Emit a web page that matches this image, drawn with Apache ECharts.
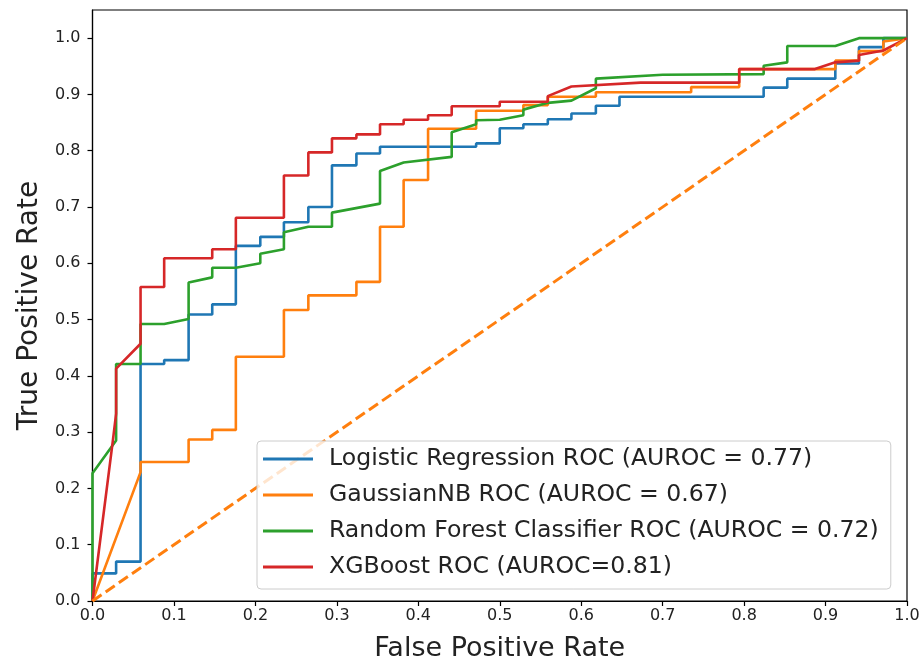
<!DOCTYPE html>
<html>
<head>
<meta charset="utf-8">
<script src="https://cdn.jsdelivr.net/npm/echarts@6/dist/echarts.min.js"></script>
<style>html,body{margin:0;padding:0;background:#fff}#c{width:923px;height:667px}</style>
</head>
<body>
<div id="c"></div>
<script>
// ---- data ----
const tickValues = [0, 0.1, 0.2, 0.3, 0.4, 0.5, 0.6, 0.7, 0.8, 0.9, 1.0];

const lrName = 'Logistic Regression ROC (AUROC = 0.77)';
const lrFpr = [0,0,0.029,0.029,0.059,0.059,0.088,0.088,0.118,0.118,0.147,0.147,0.176,0.176,0.206,0.206,0.235,0.235,0.265,0.265,0.294,0.294,0.324,0.324,0.353,0.353,0.471,0.471,0.5,0.5,0.529,0.529,0.559,0.559,0.588,0.588,0.618,0.618,0.647,0.647,0.824,0.824,0.853,0.853,0.912,0.912,0.941,0.941,0.971,0.971,1];
const lrTpr = [0,0.049,0.049,0.07,0.07,0.421,0.421,0.428,0.428,0.509,0.509,0.527,0.527,0.631,0.631,0.647,0.647,0.673,0.673,0.7,0.7,0.774,0.774,0.795,0.795,0.807,0.807,0.813,0.813,0.84,0.84,0.847,0.847,0.856,0.856,0.866,0.866,0.88,0.88,0.896,0.896,0.912,0.912,0.928,0.928,0.955,0.955,0.984,0.984,1,1];

const nbName = 'GaussianNB ROC (AUROC = 0.67)';
const nbFpr = [0,0.059,0.059,0.118,0.118,0.147,0.147,0.176,0.176,0.235,0.235,0.265,0.265,0.324,0.324,0.353,0.353,0.382,0.382,0.412,0.412,0.471,0.471,0.529,0.529,0.559,0.559,0.618,0.618,0.735,0.735,0.794,0.794,0.912,0.912,0.941,0.941,0.971,0.971,1];
const nbTpr = [0,0.229,0.247,0.247,0.287,0.287,0.304,0.304,0.434,0.434,0.517,0.517,0.543,0.543,0.567,0.567,0.665,0.665,0.748,0.748,0.839,0.839,0.871,0.871,0.881,0.881,0.896,0.896,0.904,0.904,0.913,0.913,0.945,0.945,0.96,0.96,0.977,0.977,0.994,1];

const rfName = 'Random Forest Classifier ROC (AUROC = 0.72)';
const rfFpr = [0,0,0.029,0.029,0.059,0.059,0.088,0.118,0.118,0.147,0.147,0.176,0.206,0.206,0.235,0.235,0.265,0.294,0.294,0.353,0.353,0.382,0.441,0.441,0.471,0.471,0.5,0.529,0.529,0.559,0.588,0.618,0.618,0.7,0.824,0.824,0.853,0.853,0.912,0.941,1];
const rfTpr = [0,0.227,0.285,0.421,0.421,0.492,0.492,0.501,0.566,0.575,0.592,0.592,0.6,0.617,0.625,0.655,0.665,0.665,0.69,0.706,0.764,0.779,0.789,0.833,0.847,0.854,0.855,0.863,0.873,0.885,0.889,0.911,0.928,0.935,0.936,0.951,0.957,0.986,0.986,1,1];

const xgName = 'XGBoost ROC (AUROC=0.81)';
const xgFpr = [0,0.025,0.029,0.029,0.059,0.059,0.088,0.088,0.147,0.147,0.176,0.176,0.235,0.235,0.265,0.265,0.294,0.294,0.324,0.324,0.353,0.353,0.382,0.382,0.412,0.412,0.441,0.441,0.5,0.5,0.559,0.559,0.588,0.673,0.794,0.794,0.887,0.912,0.941,0.941,0.971,1];
const xgTpr = [0,0.285,0.333,0.413,0.457,0.558,0.558,0.609,0.609,0.625,0.625,0.681,0.681,0.756,0.756,0.797,0.797,0.822,0.822,0.829,0.829,0.847,0.847,0.855,0.855,0.863,0.863,0.879,0.879,0.887,0.887,0.897,0.914,0.921,0.921,0.945,0.945,0.957,0.96,0.97,0.978,1];

const chanceFpr = [0, 1];
const chanceTpr = [0, 1];

// ---- chart ----
const zip = (xs, ys) => xs.map((x, i) => [x, ys[i]]);
const FONT = 'DejaVu Sans';
const chart = echarts.init(document.getElementById('c'), null, {renderer: 'canvas'});

function curve(name, xs, ys, color) {
  return {
    name: name, type: 'line', data: zip(xs, ys), color: color,
    showSymbol: false, symbol: 'none', animation: false,
    lineStyle: {width: 2.6, color: color}
  };
}

chart.setOption({
  animation: false,
  backgroundColor: '#fff',
  grid: {left: 92.5, right: 16, top: 10, bottom: 66, show: true, borderColor: '#000', borderWidth: 1.2, backgroundColor: 'transparent'},
  xAxis: {
    type: 'value', min: 0, max: 1, interval: 0.1,
    name: 'False Positive Rate', nameLocation: 'middle', nameGap: 34,
    nameTextStyle: {fontFamily: FONT, fontSize: 27, color: '#222'},
    axisLine: {show: true, onZero: false, lineStyle: {color: '#000', width: 1.2}},
    axisTick: {show: true, inside: false, length: 5, lineStyle: {color: '#000', width: 1.2}},
    axisLabel: {fontFamily: FONT, fontSize: 16, color: '#222', margin: 7, formatter: v => v.toFixed(1)},
    splitLine: {show: false}
  },
  yAxis: {
    type: 'value', min: 0, max: 1.05,
    name: 'True Positive Rate', nameLocation: 'middle', nameGap: 49, nameRotate: 90,
    nameTextStyle: {fontFamily: FONT, fontSize: 28, color: '#222'},
    axisLine: {show: true, onZero: false, lineStyle: {color: '#000', width: 1.2}},
    axisTick: {show: true, inside: false, length: 5, lineStyle: {color: '#000', width: 1.2}, customValues: tickValues},
    axisLabel: {fontFamily: FONT, fontSize: 16, color: '#222', margin: 12, customValues: tickValues, formatter: v => v.toFixed(1)},
    splitLine: {show: false}
  },
  legend: {
    show: true, orient: 'vertical', left: 257, top: 441,
    data: [lrName, nbName, rfName, xgName],
    icon: 'rect', itemWidth: 50, itemHeight: 3, itemGap: 10,
    padding: [5, 12, 9, 6],
    backgroundColor: 'rgba(255,255,255,0.8)', borderColor: '#cccccc', borderWidth: 1, borderRadius: 4,
    textStyle: {fontFamily: FONT, fontSize: 23.6, color: '#222', lineHeight: 26, padding: [0, 0, 0, 11]},
    selectedMode: false
  },
  series: [
    curve(lrName, lrFpr, lrTpr, '#1f77b4'),
    curve(nbName, nbFpr, nbTpr, '#ff7f0e'),
    curve(rfName, rfFpr, rfTpr, '#2ca02c'),
    curve(xgName, xgFpr, xgTpr, '#d62728'),
    {
      name: 'chance', type: 'line', data: zip(chanceFpr, chanceTpr), showSymbol: false, symbol: 'none',
      lineStyle: {width: 3, color: '#ff7f0e', type: [11, 5]}, color: '#ff7f0e'
    }
  ]
});
</script>
</body>
</html>
